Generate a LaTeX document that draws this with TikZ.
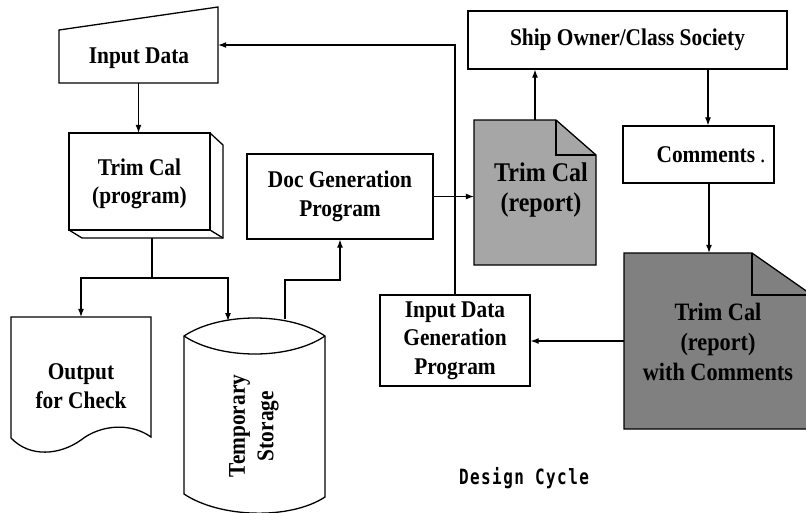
\documentclass[tikz,border=0pt]{standalone}
\usepackage{fontspec}
\setmainfont{Liberation Serif}[FakeStretch=0.89]
\newfontfamily\dcfont{DejaVu Sans Mono}[FakeStretch=0.76, LetterSpace=7]
\usetikzlibrary{arrows.meta,calc}
\begin{document}
\begin{tikzpicture}[x=1pt,y=-1pt,
  every node/.style={font=\fontsize{24}{28.5}\selectfont\bfseries, align=center, inner sep=0pt},
  ln/.style={line width=1.3pt, line join=miter},
  box/.style={draw, line width=1.3pt},
  arr/.style={line width=1.1pt, -{Latex[length=8pt,width=6pt]}},
  lk/.style={line width=1.1pt},
  docfill/.style={fill=black!#1}
]
\useasboundingbox (0,0) rectangle (806,512);
\clip (0,0) rectangle (806,512);
\fill[white] (0,0) rectangle (806,512);

% Input Data (manual input)
\draw[ln] (59,30) -- (218,7) -- (218,83) -- (59,83) -- cycle;
\node[minimum width=159pt, minimum height=76pt] (ind) at (138.5,45) {};
\node (indT) at (139,58) {Input Data};

% Trim Cal (program) 3D box
\draw[ln] (69,133) rectangle (210,230);
\draw[ln] (210,133) -- (223,145) -- (223,238) -- (82,238) -- (69,230);
\draw[ln] (210,230) -- (223,238);
\node[minimum width=141pt, minimum height=97pt] (tcp) at (139.5,181.5) {};
\node (tcpT) at (139.5,184) {Trim Cal\\(program)};

% Output for Check (document)
\draw[ln] (11,317) -- (151,317) -- (151,437)
  .. controls (130,422) and (100,425) .. (81,440)
  .. controls (60,455) and (30,458) .. (11,438) -- cycle;
\node[minimum width=140pt, minimum height=120pt] (out) at (81,377) {};
\node (outT) at (81,386) {Output\\for Check};

% Temporary Storage (cylinder)
\draw[ln] (184,336) -- (184,494)
  .. controls (220,518) and (290,520) .. (325,497) -- (325,336)
  .. controls (290,312) and (220,312) .. (184,336) -- cycle;
\draw[ln] (184,336) .. controls (220,360) and (290,360) .. (325,336);
\node[minimum width=141pt, minimum height=192pt] (st) at (254.5,415) {};
\node[rotate=90] (stT) at (254,426) {Temporary\\Storage};

% Doc Generation Program
\node[box, minimum width=186pt, minimum height=85pt] (dg) at (340,196.5) {Doc Generation\\Program};

% Trim Cal (report)
\draw[ln, docfill=35] (474,120) -- (556,120) -- (596,155) -- (596,265) -- (474,265) -- cycle;
\draw[ln] (556,120) -- (556,155) -- (596,155);
\node[minimum width=122pt, minimum height=145pt] (rep) at (535,192.5) {};
\node[font=\fontsize{27}{30}\selectfont\bfseries] (repT) at (541,190) {Trim Cal\\(report)};

% Ship Owner / Class Society
\node[box, minimum width=319pt, minimum height=58pt] (ship) at (627.5,40) {Ship Owner/Class Society};

% Comments
\node[box, minimum width=151pt, minimum height=57pt] (cm) at (698.5,154.5) {};
\node (cmT) at (711,155) {Comments\hspace{5pt}\textmd{.}};

% Trim Cal (report) with Comments
\draw[ln, docfill=50] (624,253) -- (752,253) -- (812,295) -- (812,429) -- (624,429) -- cycle;
\draw[ln] (752,253) -- (752,295) -- (812,295);
\node[minimum width=188pt, minimum height=176pt] (d2) at (718,341) {};
\node[font=\fontsize{25}{30}\selectfont\bfseries] (d2T) at (718,342) {Trim Cal\\(report)\\with Comments};

% Input Data Generation Program
\node[box, minimum width=150pt, minimum height=91pt] (idg) at (455,340.5) {Input Data\\Generation\\Program};

% Caption
\node[font=\dcfont\fontsize{21}{22}\selectfont\bfseries] (dc) at (524,478) {Design Cycle};

% Connectors
\draw[arr] (ind.south) -- (ind.south |- tcp.north);
\coordinate (tcb) at (152,238);
\coordinate (split) at (152,278);
\coordinate (stin) at (228,321);
\draw[lk] (tcb) -- (split);
\draw[arr] (split) -| (out.north);
\draw[arr] (split) -| (stin);
\coordinate (stout) at (285,319);
\coordinate (bend) at (285,280);
\draw[arr] (stout) -- (bend) -| (dg.south);
\draw[arr] (dg.east) -- (dg.east -| rep.west);
\draw[arr] (rep.north) -- (rep.north |- ship.south);
\coordinate (c1) at ($(cm.north)+(9.5,0)$);
\draw[arr] (c1 |- ship.south) -- (c1);
\coordinate (c2) at ($(cm.south)+(10.5,0)$);
\draw[arr] (c2) -- (c2 |- d2.north);
\draw[arr] (d2.west) -- (d2.west -| idg.east);
\draw[arr] (idg.north) |- (ind.east);
\end{tikzpicture}
\end{document}
